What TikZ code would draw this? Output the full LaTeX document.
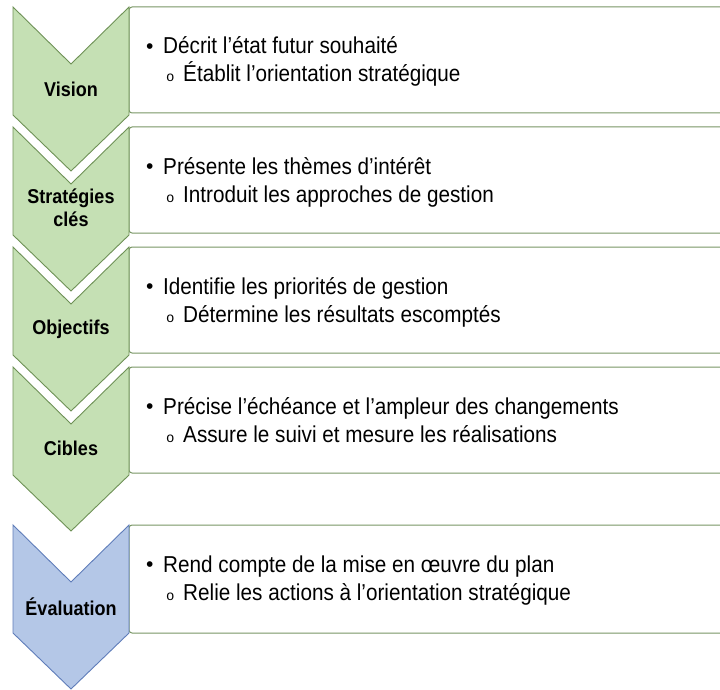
\documentclass[tikz,border=0pt]{standalone}
\usepackage{fontspec}
\setmainfont{Liberation Sans}[FakeStretch=0.9]
\newfontfamily\bulletfont{Liberation Sans}
\newfontfamily\circfont{Liberation Mono}
\usepackage{tikz}
\usetikzlibrary{positioning}
\usepackage{xcolor}
\definecolor{chgreen}{RGB}{197,224,180}
\definecolor{chgreenline}{RGB}{110,145,86}
\definecolor{chblue}{RGB}{180,199,231}
\definecolor{chblueline}{RGB}{95,125,185}
\definecolor{boxline}{RGB}{120,150,100}
\tikzstyle{stagebox} = [draw=boxline, line width=1pt, fill=white, rounded corners=3pt]
\tikzstyle{greenchev} = [draw=chgreenline, fill=chgreen, line width=0.9pt, line join=miter]
\tikzstyle{bluechev} = [draw=chblueline, fill=chblue, line width=0.9pt, line join=miter]
\tikzstyle{stagelabel} = [font=\fontsize{20}{23}\selectfont\bfseries, align=center, inner sep=0pt]
\tikzstyle{point} = [anchor=base west, font=\fontsize{23}{24}\selectfont, inner sep=0pt]
\newcommand{\mainpt}[1]{\makebox[17pt][l]{\bulletfont\fontsize{21}{21}\selectfont\raisebox{0.5pt}{•}}#1}
\newcommand{\subpt}[1]{\makebox[17pt][l]{\circfont\fontsize{14}{14}\selectfont o}#1}
% chevron pointing down, top corners at height #2
\newcommand{\stagechev}[2]{\draw[#1] (13,#2) -- ++(58,57) -- ++(58,-57) -- ++(0,108) -- ++(-58,56) -- ++(-58,-56) -- cycle;}

\begin{document}
\begin{tikzpicture}[x=1pt,y=-1pt]
\clip (0,0) rectangle (720,690);

% Text boxes
\draw[stagebox] (129,7) rectangle (740,113);
\draw[stagebox] (129,127) rectangle (740,233);
\draw[stagebox] (129,247) rectangle (740,353);
\draw[stagebox] (129,367) rectangle (740,473);
\draw[stagebox] (129,525) rectangle (740,633);

% Chevrons
\stagechev{greenchev}{7}
\stagechev{greenchev}{127}
\stagechev{greenchev}{247}
\stagechev{greenchev}{367}
\stagechev{bluechev}{525}

% Stage names
\node[stagelabel] (vision) at (71,89) {Vision};
\node[stagelabel] (strat) at (71,208) {Stratégies\\clés};
\node[stagelabel] (obj) at (71,329) {Objectifs};
\node[stagelabel] (cibles) at (71,448) {Cibles};
\node[stagelabel] (eval) at (71,607) {Évaluation};

% Points
\node[point] (vision1) at (146,54) {\mainpt{Décrit l’état futur souhaité}};
\node[point] (vision2) at (166,82) {\subpt{Établit l’orientation stratégique}};
\node[point] (strat1) at (146,174) {\mainpt{Présente les thèmes d’intérêt}};
\node[point] (strat2) at (166,202) {\subpt{Introduit les approches de gestion}};
\node[point] (obj1) at (146,294) {\mainpt{Identifie les priorités de gestion}};
\node[point] (obj2) at (166,322) {\subpt{Détermine les résultats escomptés}};
\node[point] (cibles1) at (146,414) {\mainpt{Précise l’échéance et l’ampleur des changements}};
\node[point] (cibles2) at (166,442) {\subpt{Assure le suivi et mesure les réalisations}};
\node[point] (eval1) at (146,572) {\mainpt{Rend compte de la mise en œuvre du plan}};
\node[point] (eval2) at (166,600) {\subpt{Relie les actions à l’orientation stratégique}};
\end{tikzpicture}
\end{document}
